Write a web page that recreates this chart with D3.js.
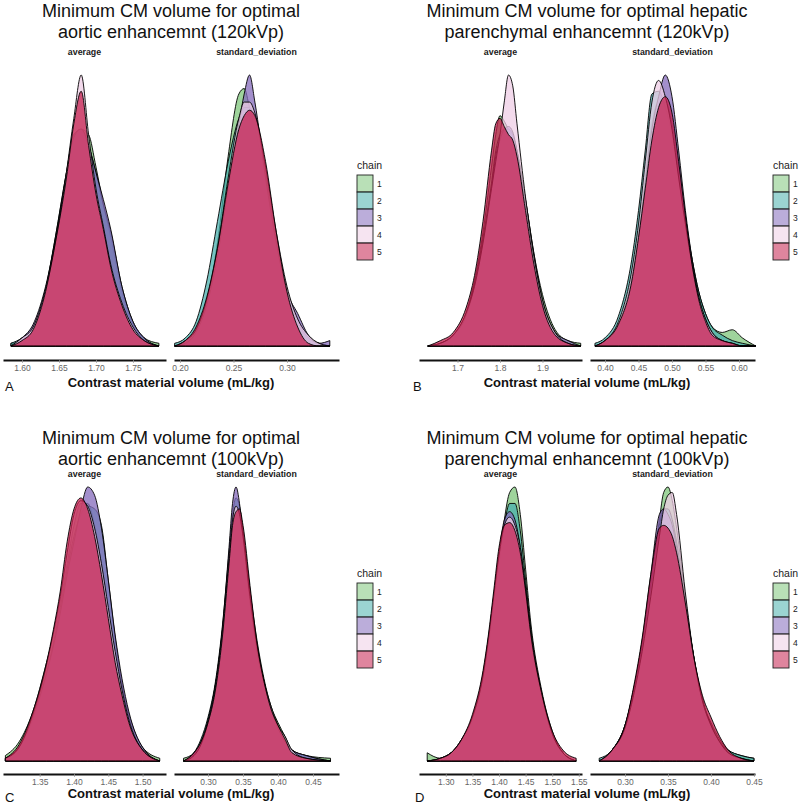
<!DOCTYPE html>
<html>
<head>
<meta charset="utf-8">
<script src="https://cdn.jsdelivr.net/npm/d3@7"></script>
<style>
  body { margin: 0; background: #fff; }
  svg { display: block; font-family: "Liberation Sans", Arial, sans-serif; }
</style>
</head>
<body>
<svg id="chart" width="800" height="805"></svg>
<script>
var chains = ["1", "2", "3", "4", "5"];
var chainColors = ["#7fc67b", "#49b0ad", "#8469bb", "#efcde6", "#c4204f"];
var facetNames = ["average", "standard_deviation"];

// relative density heights, one row per chain (1..5)
var aorticAvg120X = [1.585, 1.60, 1.615, 1.63, 1.645, 1.66, 1.67, 1.68, 1.69, 1.70, 1.71, 1.72, 1.735, 1.75, 1.765, 1.785];
var aorticAvg120 = [
    [1, 2, 6, 18, 40, 64, 78, 80, 78, 66, 52, 40, 20, 8, 3, 1],
    [1, 3, 7, 19, 40, 64, 78, 80, 74, 64, 52, 42, 22, 9, 3, 0],
    [0, 3, 8, 20, 39, 63, 77, 80, 74, 64, 54, 43, 22, 9, 3, 0],
    [0, 3, 7, 19, 38, 64, 84, 100, 78, 58, 44, 30, 16, 7, 2, 0],
    [0, 2, 6, 18, 38, 62, 82, 94, 74, 56, 43, 29, 15, 6, 2, 0]
];
var aorticSd120X = [0.195, 0.205, 0.215, 0.225, 0.235, 0.245, 0.255, 0.26, 0.265, 0.27, 0.28, 0.29, 0.30, 0.31, 0.32, 0.33, 0.34];
var aorticSd120 = [
    [0, 2, 6, 17, 38, 70, 93, 95, 88, 80, 62, 40, 20, 8, 3, 1, 0],
    [1, 3, 9, 24, 46, 68, 84, 88, 88, 84, 64, 40, 21, 9, 3, 1, 0],
    [0, 1, 5, 15, 33, 58, 82, 93, 100, 90, 62, 38, 20, 12, 4, 1, 2],
    [0, 2, 6, 17, 36, 62, 84, 90, 90, 86, 66, 42, 22, 10, 4, 1, 0],
    [0, 2, 7, 18, 36, 60, 80, 85, 87, 85, 68, 42, 20, 7, 1, 0, 0]
];
var hepaticAvg120X = [1.63, 1.66, 1.69, 1.72, 1.74, 1.76, 1.78, 1.79, 1.80, 1.81, 1.82, 1.83, 1.84, 1.86, 1.88, 1.90, 1.93, 1.96, 1.99];
var hepaticAvg120 = [
    [0, 1, 4, 12, 24, 42, 66, 78, 85, 83, 80, 78, 72, 54, 34, 19, 6, 2, 1],
    [0, 1, 4, 12, 23, 40, 60, 72, 78, 80, 80, 78, 72, 54, 34, 17, 5, 1, 0],
    [0, 1, 4, 11, 22, 38, 58, 70, 76, 80, 81, 79, 72, 52, 32, 16, 5, 2, 0],
    [0, 1, 4, 12, 22, 38, 58, 68, 78, 90, 100, 96, 82, 55, 33, 17, 5, 1, 0],
    [0, 2, 5, 14, 26, 46, 72, 82, 84, 81, 78, 76, 70, 50, 30, 15, 4, 1, 0]
];
var hepaticSd120X = [0.385, 0.40, 0.42, 0.44, 0.45, 0.46, 0.47, 0.48, 0.49, 0.50, 0.51, 0.52, 0.53, 0.54, 0.55, 0.56, 0.575, 0.59, 0.605, 0.625];
var hepaticSd120 = [
    [0, 2, 8, 25, 42, 62, 82, 90, 90, 82, 66, 48, 32, 20, 12, 7, 5, 6, 3, 0],
    [1, 3, 11, 32, 50, 72, 93, 94, 88, 78, 62, 46, 32, 20, 12, 7, 4, 2, 1, 0],
    [0, 2, 8, 25, 40, 60, 80, 92, 100, 92, 72, 50, 32, 18, 10, 5, 2, 1, 0, 0],
    [0, 2, 9, 28, 45, 68, 90, 98, 92, 80, 62, 45, 30, 18, 10, 5, 2, 1, 0, 0],
    [0, 2, 8, 24, 40, 58, 76, 88, 92, 86, 68, 48, 30, 17, 9, 4, 2, 1, 0, 0]
];
var aorticAvg100X = [1.30, 1.32, 1.34, 1.36, 1.37, 1.38, 1.39, 1.40, 1.41, 1.42, 1.43, 1.44, 1.45, 1.46, 1.47, 1.48, 1.50, 1.525];
var aorticAvg100 = [
    [2, 7, 18, 36, 46, 58, 72, 86, 94, 94, 86, 72, 56, 40, 27, 17, 5, 1],
    [1, 5, 15, 32, 43, 56, 70, 82, 90, 93, 92, 86, 66, 45, 28, 16, 4, 0],
    [1, 5, 16, 32, 42, 54, 68, 80, 92, 100, 97, 85, 66, 46, 30, 18, 5, 0],
    [1, 5, 17, 35, 47, 60, 76, 90, 95, 93, 85, 72, 56, 40, 26, 15, 4, 0],
    [1, 6, 18, 36, 48, 62, 80, 92, 96, 92, 82, 68, 52, 36, 24, 14, 4, 0]
];
var aorticSd100X = [0.265, 0.28, 0.29, 0.30, 0.31, 0.32, 0.33, 0.335, 0.34, 0.345, 0.35, 0.36, 0.37, 0.38, 0.39, 0.40, 0.41, 0.42, 0.44, 0.475];
var aorticSd100 = [
    [1, 3, 7, 15, 27, 46, 74, 86, 90, 88, 82, 62, 44, 30, 20, 14, 9, 4, 2, 1],
    [0, 3, 8, 16, 28, 48, 76, 90, 96, 93, 84, 62, 42, 29, 19, 12, 7, 4, 2, 0],
    [0, 3, 7, 15, 27, 47, 78, 94, 100, 94, 82, 58, 40, 28, 19, 12, 7, 4, 2, 0],
    [0, 2, 6, 14, 26, 46, 74, 88, 93, 90, 82, 60, 42, 29, 20, 13, 9, 4, 1, 0],
    [0, 3, 7, 14, 25, 44, 72, 86, 91, 92, 86, 64, 43, 29, 19, 13, 8, 3, 1, 0]
];
var hepaticAvg100X = [1.265, 1.29, 1.31, 1.33, 1.35, 1.37, 1.38, 1.39, 1.40, 1.41, 1.42, 1.43, 1.44, 1.45, 1.46, 1.48, 1.50, 1.52, 1.545];
var hepaticAvg100 = [
    [3, 1, 3, 7, 14, 28, 40, 55, 72, 88, 98, 100, 90, 70, 50, 26, 11, 3, 0],
    [0, 1, 3, 7, 15, 30, 42, 57, 72, 86, 94, 94, 84, 66, 48, 24, 10, 3, 0],
    [0, 1, 3, 8, 16, 32, 45, 60, 76, 88, 91, 88, 78, 62, 45, 24, 10, 3, 0],
    [0, 1, 3, 8, 16, 31, 44, 60, 75, 86, 89, 86, 78, 63, 47, 25, 10, 3, 0],
    [0, 1, 3, 8, 17, 33, 46, 62, 78, 86, 87, 84, 76, 62, 46, 25, 11, 4, 1]
];
var hepaticSd100X = [0.27, 0.285, 0.30, 0.31, 0.32, 0.33, 0.34, 0.345, 0.35, 0.355, 0.36, 0.37, 0.38, 0.39, 0.40, 0.41, 0.42, 0.435, 0.45];
var hepaticSd100 = [
    [0, 4, 13, 25, 42, 64, 88, 98, 100, 95, 85, 60, 38, 22, 14, 8, 4, 2, 1],
    [1, 4, 13, 26, 43, 65, 86, 92, 92, 88, 80, 58, 38, 23, 13, 7, 4, 2, 1],
    [0, 4, 13, 26, 44, 68, 90, 92, 90, 86, 78, 58, 38, 22, 13, 7, 3, 1, 0],
    [0, 4, 12, 24, 40, 60, 82, 92, 97, 98, 90, 62, 38, 22, 13, 7, 3, 1, 0],
    [0, 4, 13, 27, 45, 68, 85, 86, 85, 82, 76, 58, 38, 24, 16, 9, 4, 1, 0]
];

// axis ticks and limits
var ticksAorticAvg120 = [1.60, 1.65, 1.70, 1.75];
var ticksAorticSd120 = [0.20, 0.25, 0.30];
var ticksHepaticAvg120 = [1.7, 1.8, 1.9];
var ticksHepaticSd120 = [0.40, 0.45, 0.50, 0.55, 0.60];
var ticksAorticAvg100 = [1.35, 1.40, 1.45, 1.50];
var ticksAorticSd100 = [0.30, 0.35, 0.40, 0.45];
var ticksHepaticAvg100 = [1.30, 1.35, 1.40, 1.45, 1.50, 1.55];
var ticksHepaticSd100 = [0.30, 0.35, 0.40, 0.45];

var panels = [
    {letter: "A", col: 0, row: 0,
     title: ["Minimum CM volume for optimal", "aortic enhancemnt (120kVp)"],
     facets: [
        {x: aorticAvg120X, y: aorticAvg120, ticks: ticksAorticAvg120, fmt: ".2f", dom: [1.5743, 1.7946]},
        {x: aorticSd120X, y: aorticSd120, ticks: ticksAorticSd120, fmt: ".2f", dom: [0.1944, 0.3486]}]},
    {letter: "B", col: 1, row: 0,
     title: ["Minimum CM volume for optimal hepatic", "parenchymal enhancemnt (120kVp)"],
     facets: [
        {x: hepaticAvg120X, y: hepaticAvg120, ticks: ticksHepaticAvg120, fmt: ".1f", dom: [1.6094, 1.993]},
        {x: hepaticSd120X, y: hepaticSd120, ticks: ticksHepaticSd120, fmt: ".2f", dom: [0.3776, 0.6239]}]},
    {letter: "C", col: 0, row: 1,
     title: ["Minimum CM volume for optimal", "aortic enhancemnt (100kVp)"],
     facets: [
        {x: aorticAvg100X, y: aorticAvg100, ticks: ticksAorticAvg100, fmt: ".2f", dom: [1.2965, 1.5341]},
        {x: aorticSd100X, y: aorticSd100, ticks: ticksAorticSd100, fmt: ".2f", dom: [0.2514, 0.4871]}]},
    {letter: "D", col: 1, row: 1,
     title: ["Minimum CM volume for optimal hepatic", "parenchymal enhancemnt (100kVp)"],
     facets: [
        {x: hepaticAvg100X, y: hepaticAvg100, ticks: ticksHepaticAvg100, fmt: ".2f", dom: [1.2496, 1.556]},
        {x: hepaticSd100X, y: hepaticSd100, ticks: ticksHepaticSd100, fmt: ".2f", dom: [0.2593, 0.4512]}]}
];

// layout
var colX = [0, 416];
var letterX = [5, 413, 5, 415];
var facetRange = [[3, 166], [174, 339]];
var rows = [
    {title: [17, 38], strip: 55, peak: 75, base: 346, axis: 360, xTitle: 387, legend: 169},
    {title: [444, 465], strip: 477, peak: 487, base: 761, axis: 774, xTitle: 798, legend: 577}
];

var svg = d3.select("#chart");

panels.forEach(function (p, pi) {
    var r = rows[p.row];
    var g = svg.append("g")
        .attr("transform", "translate(" + colX[p.col] + ",0)");

    var title = g.append("text")
        .attr("x", 171)
        .attr("text-anchor", "middle")
        .style("font-size", "18px")
        .attr("fill", "#111");
    p.title.forEach(function (t, i) {
        title.append("tspan").attr("x", 171).attr("y", r.title[i]).text(t);
    });

    p.facets.forEach(function (f, fi) {
        var x = d3.scaleLinear().domain(f.dom).range(facetRange[fi]);
        var ymax = d3.max(f.y, function (s) { return d3.max(s); });
        var y = d3.scaleLinear().domain([0, ymax]).range([r.base, r.peak]);

        g.append("text")
            .attr("x", (facetRange[fi][0] + facetRange[fi][1]) / 2)
            .attr("y", r.strip)
            .attr("text-anchor", "middle")
            .style("font-size", "8.8px")
            .style("font-weight", "bold")
            .attr("fill", "#1a1a1a")
            .text(facetNames[fi]);

        var area = d3.area()
            .x(function (d, i) { return x(f.x[i]); })
            .y0(y(0))
            .y1(function (d) { return y(d); })
            .curve(d3.curveMonotoneX);

        g.selectAll(null)
            .data(f.y)
            .enter()
            .append("path")
            .attr("d", area)
            .attr("fill", function (d, i) { return chainColors[i]; })
            .attr("fill-opacity", 0.75)
            .attr("stroke", "#000")
            .attr("stroke-width", 0.9);

        var xAxis = d3.axisBottom(x)
            .tickValues(f.ticks)
            .tickFormat(d3.format(f.fmt))
            .tickSizeInner(3)
            .tickSizeOuter(0)
            .tickPadding(2);

        var ax = g.append("g")
            .attr("transform", "translate(0," + r.axis + ")")
            .call(xAxis);
        ax.select(".domain").attr("stroke", "#111").attr("stroke-width", 2.2);
        ax.selectAll(".tick line").attr("stroke", "#999").attr("stroke-width", 0.7);
        ax.selectAll(".tick text")
            .attr("fill", "#666")
            .style("font-size", "8.5px")
            .style("font-family", "'Liberation Sans', Arial, sans-serif");
    });

    g.append("text")
        .attr("x", 171)
        .attr("y", r.xTitle)
        .attr("text-anchor", "middle")
        .style("font-size", "13px")
        .style("font-weight", "bold")
        .attr("fill", "#111")
        .text("Contrast material volume (mL/kg)");

    svg.append("text")
        .attr("x", letterX[pi])
        .attr("y", r.xTitle + 4)
        .style("font-size", "13px")
        .attr("fill", "#111")
        .text(p.letter);

    // legend
    var lg = g.append("g").attr("transform", "translate(357," + r.legend + ")");
    lg.append("text")
        .attr("y", 0)
        .style("font-size", "10.5px")
        .attr("fill", "#222")
        .text("chain");
    lg.selectAll("rect")
        .data(chains)
        .enter()
        .append("rect")
        .attr("x", 0)
        .attr("y", function (d, i) { return 6 + i * 17; })
        .attr("width", 16)
        .attr("height", 17)
        .attr("fill", function (d, i) { return chainColors[i]; })
        .attr("fill-opacity", 0.55)
        .attr("stroke", "#222")
        .attr("stroke-width", 0.9);
    lg.selectAll("text.lab")
        .data(chains)
        .enter()
        .append("text")
        .attr("class", "lab")
        .attr("x", 20)
        .attr("y", function (d, i) { return 6 + i * 17 + 12; })
        .style("font-size", "8.5px")
        .attr("fill", "#222")
        .text(function (d) { return d; });
});
</script>
</body>
</html>
